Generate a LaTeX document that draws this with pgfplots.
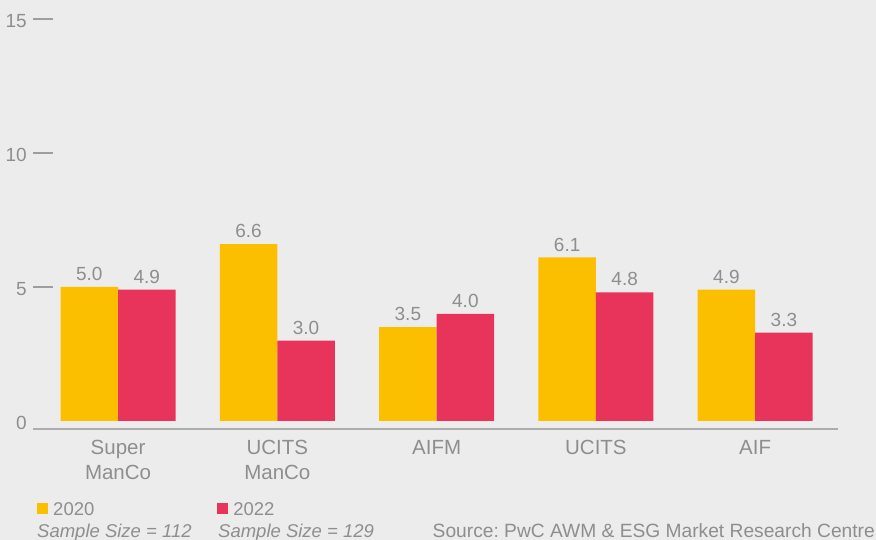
\documentclass[border=0pt]{standalone}
\usepackage{pgfplots}
\pgfplotsset{compat=1.18}
\usepackage{fontspec}
\setmainfont{Liberation Sans}
\definecolor{bgc}{HTML}{ECECEC}
\definecolor{txtc}{HTML}{8E8E8E}
\definecolor{axc}{HTML}{ADADAD}
\definecolor{tkc}{HTML}{9E9E9E}
\definecolor{ylw}{HTML}{FBBF00}
\definecolor{rd}{HTML}{E8345A}
\frenchspacing
\begin{document}
\begin{tikzpicture}
\fill[bgc] (-33bp,-111bp) rectangle (843bp,429bp);
\begin{axis}[
  at={(0,0)}, anchor=south west,
  scale only axis, width=805bp, height=410bp,
  /pgf/number format/assume math mode=true,
  xmin=-0.534, xmax=4.52, ymin=-0.3, ymax=15,
  enlargelimits=false,
  separate axis lines,
  axis x line*=bottom, axis y line*=left,
  x axis line style={-, draw=axc, line width=2bp},
  y axis line style={-, draw=none},
  every outer x axis line/.append style={-},
  every outer y axis line/.append style={-},
  xtick=data,
  xticklabels={{Super\\ManCo},{UCITS\\ManCo},AIFM,UCITS,AIF},
  xtick style={draw=none},
  xticklabel style={align=center, font=\fontsize{20.5bp}{25bp}\selectfont, text=txtc, inner sep=0pt, yshift=9bp},
  ytick={5,10,15},
  tick align=inside,
  major tick length=20bp,
  ytick style={draw=tkc, line width=1.2bp},
  yticklabel style={font=\fontsize{19bp}{22bp}\selectfont, text=txtc, anchor=east, inner sep=0pt, xshift=-6bp, yshift=-2bp},
  extra y ticks={0},
  extra y tick style={major tick length=0pt, ytick style={draw=none}},
  ybar=0pt, bar width=57.5bp,
  nodes near coords,
  nodes near coords style={font=\fontsize{19bp}{22bp}\selectfont, text=txtc, inner sep=0pt, yshift=6bp,
    /pgf/number format/.cd, fixed, fixed zerofill, precision=1},
  legend style={at={(0.005,-0.178)}, anchor=north west, draw=none, fill=none, inner sep=0pt,
    font=\fontsize{18.5bp}{22bp}\selectfont, text=txtc,
    nodes={inner sep=0pt},
    /tikz/every odd column/.append style={column sep=5bp},
    /tikz/every even column/.append style={column sep=123bp}},
  legend columns=2,
  legend cell align=left,
  legend image code/.code={\fill[#1,draw=none] (0bp,-5bp) rectangle (11bp,6bp);},
]
\addplot[fill=ylw, draw=none] coordinates {(0,5.0) (1,6.6) (2,3.5) (3,6.1) (4,4.9)};
\addplot[fill=rd, draw=none] coordinates {(0,4.9) (1,3.0) (2,4.0) (3,4.8) (4,3.3)};
\legend{2020,2022}
\end{axis}
\node[anchor=base west, inner sep=0pt, text=txtc, font=\fontsize{18.5bp}{22bp}\selectfont\itshape] at (4bp,-108bp) {Sample Size = 112};
\node[anchor=base west, inner sep=0pt, text=txtc, font=\fontsize{18.5bp}{22bp}\selectfont\itshape] at (185bp,-108bp) {Sample Size = 129};
\node[anchor=base east, inner sep=0pt, text=txtc, font=\fontsize{19.2bp}{22bp}\selectfont] at (842bp,-108bp) {Source: PwC AWM \& ESG Market Research Centre};
\pgfresetboundingbox
\useasboundingbox (-33bp,-111bp) rectangle (843bp,429bp);
\end{tikzpicture}
\end{document}
